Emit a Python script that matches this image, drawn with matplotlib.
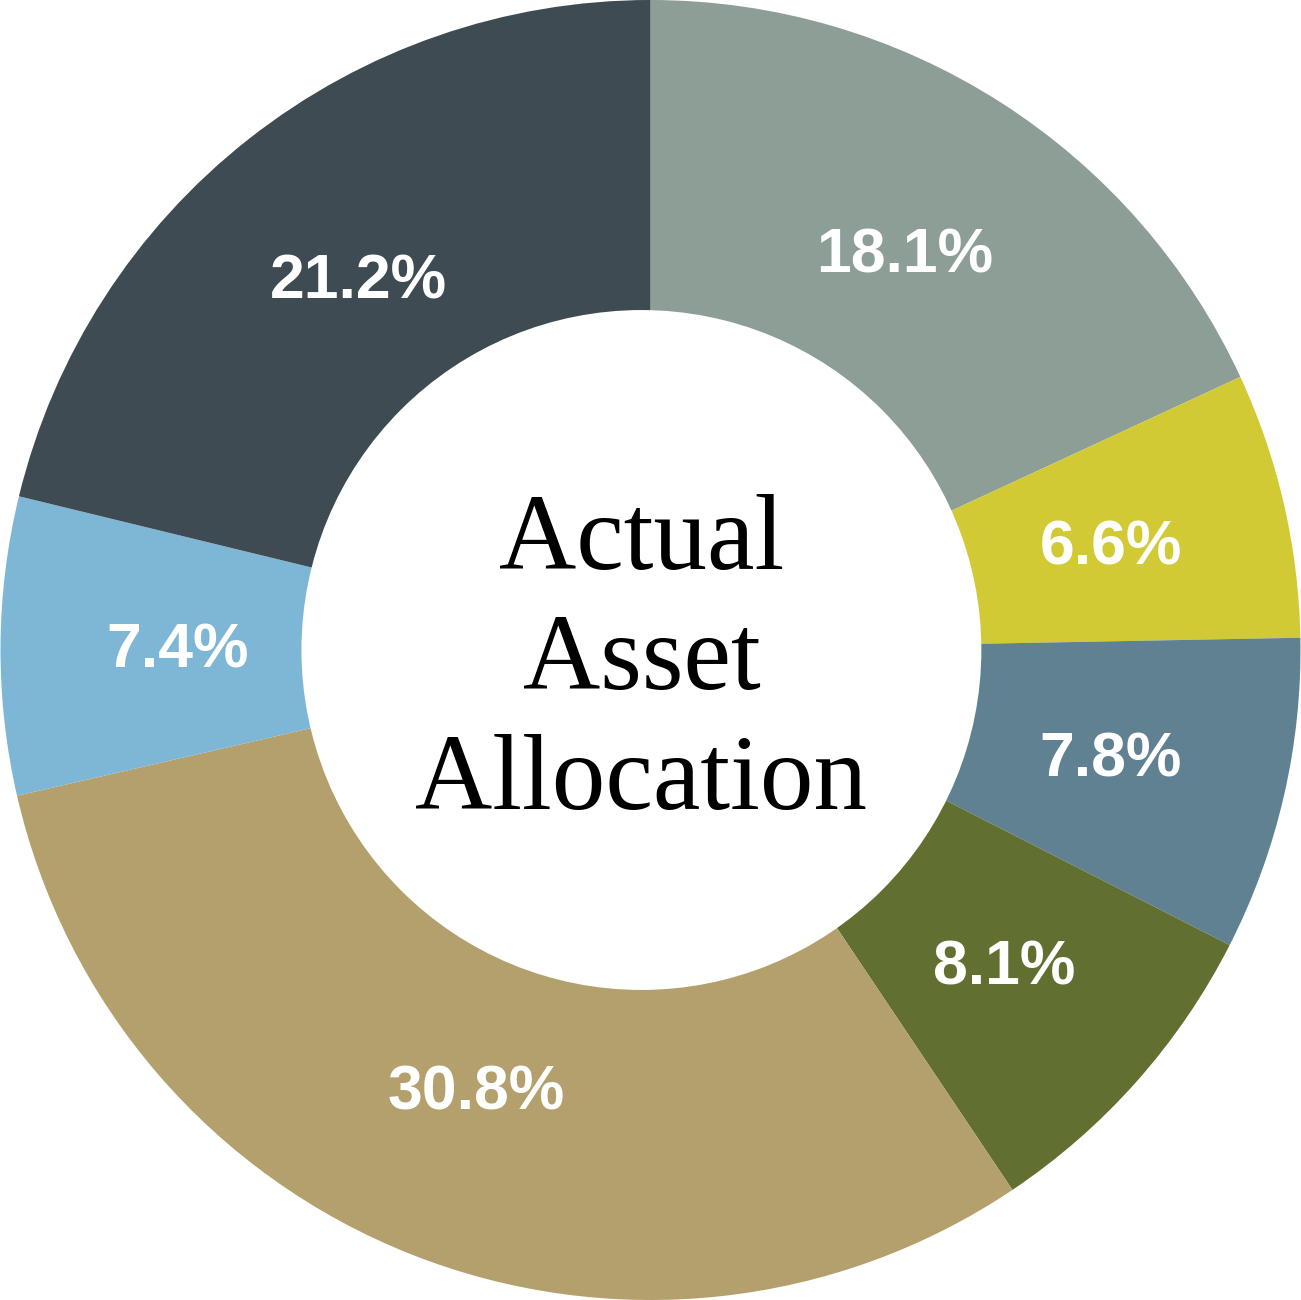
import matplotlib.pyplot as plt
from matplotlib.patches import Circle

# slices clockwise from 12 o'clock
labels = ["18.1%", "6.6%", "7.8%", "8.1%", "30.8%", "7.4%", "21.2%"]
shares = [18.1, 6.6, 7.8, 8.1, 30.8, 7.4, 21.2]
colors = ["#8D9E96", "#D2CA35", "#5F8191", "#616F31", "#B4A06C", "#7EB6D6", "#3E4B53"]

fig = plt.figure(figsize=(13.01, 13.0), dpi=100)
ax = fig.add_axes([0, 0, 1, 1])

wedges, texts = ax.pie(shares, colors=colors, startangle=90, counterclock=False,
                       radius=1.0, wedgeprops=dict(linewidth=0),
                       labels=labels, labeldistance=0.727)
for t in texts:
    x, y = t.get_position()
    t.set_position((x, y - 0.006))
    t.set_ha("center")
    t.set_va("center")
    t.set_color("white")
    t.set_fontsize(45)
    t.set_fontweight("bold")
    t.set_family("Liberation Sans")

# hole sits a touch left of centre in the original
ax.add_patch(Circle((-0.014, 0.0), 0.523, facecolor="white", edgecolor="none", zorder=3))

ax.text(-0.014, -0.02, "Actual\nAsset\nAllocation", ha="center", va="center",
        fontsize=77, family="Liberation Serif", linespacing=1.3, color="black", zorder=4)

ax.set_xlim(-1.0, 1.0)
ax.set_ylim(-1.0, 1.0)
ax.set_aspect("equal")
ax.axis("off")

plt.savefig("out.png", dpi=100)
